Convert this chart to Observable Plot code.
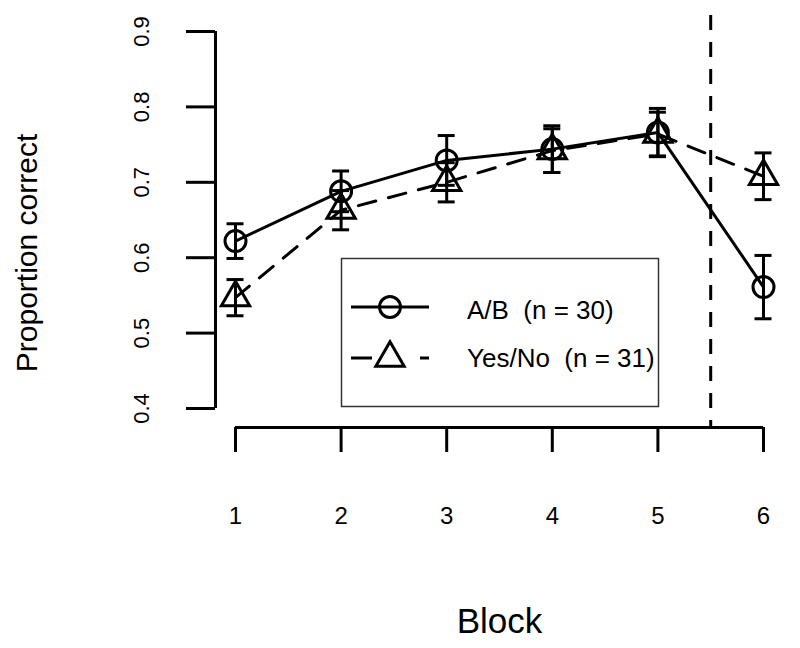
<!DOCTYPE html>
<html><head><meta charset="utf-8">
<script src="https://cdn.jsdelivr.net/npm/d3@7"></script>
<script src="https://cdn.jsdelivr.net/npm/@observablehq/plot@0.6"></script>
<style>
html,body{margin:0;padding:0;background:#fff;}
#wrap{position:relative;width:800px;height:648px;font-family:"Liberation Sans",Arial,Helvetica,sans-serif;}
#legend{position:absolute;left:340px;top:257px;}
svg text{white-space:pre;}
</style></head><body>
<div id="wrap"><div id="chart"></div><div id="legend"></div></div>
<script>
// ---- data ----
const blocks = [1, 2, 3, 4, 5, 6];
const abMean = [0.622, 0.688, 0.729, 0.744, 0.766, 0.561];
const abSE   = [0.023, 0.027, 0.033, 0.031, 0.032, 0.042];
const ynMean = [0.547, 0.663, 0.700, 0.742, 0.764, 0.708];
const ynSE   = [0.024, 0.026, 0.026, 0.029, 0.029, 0.031];
const seriesLabels = ["A/B  (n = 30)", "Yes/No  (n = 31)"];
const yTicks = [0.4, 0.5, 0.6, 0.7, 0.8, 0.9];
const cutoff = 5.5;
const xLabel = "Block";
const yLabel = "Proportion correct";

const font = "Liberation Sans, Arial, Helvetica, sans-serif";
const rows = (m, s) => blocks.map((b, i) => ({block: b, mean: m[i], lo: m[i] - s[i], hi: m[i] + s[i]}));
const ab = rows(abMean, abSE);
const yn = rows(ynMean, ynSE);
const lw = 3, cap = 8.5, R = 10.5;
const dash = "18,13";

function errorBars(data) {
  return [
    Plot.ruleX(data, {x: "block", y1: "lo", y2: "hi", strokeWidth: lw}),
    Plot.ruleY(data, {y: "hi", x1: "block", x2: "block", insetLeft: -cap, insetRight: -cap, strokeWidth: lw}),
    Plot.ruleY(data, {y: "lo", x1: "block", x2: "block", insetLeft: -cap, insetRight: -cap, strokeWidth: lw})
  ];
}

const chart = Plot.plot({
  width: 800, height: 648,
  marginLeft: 235, marginRight: 37, marginTop: 31, marginBottom: 240,
  style: {fontFamily: font, background: "white", color: "black"},
  x: {domain: [blocks[0], blocks[blocks.length - 1]], axis: null},
  y: {domain: [yTicks[0], yTicks[yTicks.length - 1]], axis: null},
  marks: [
    Plot.ruleX([blocks[0]], {y1: yTicks[0], y2: yTicks[yTicks.length - 1], dx: -20, strokeWidth: lw}),
    Plot.axisY(yTicks, {anchor: "left", tickSize: 29, tickPadding: 38, tickRotate: -90, dx: -20,
      strokeWidth: lw, fontSize: 22, tickFormat: d3.format(".1f"), label: null}),
    Plot.ruleY([yTicks[0]], {x1: blocks[0], x2: blocks[blocks.length - 1], dy: 19, strokeWidth: lw}),
    Plot.axisX(blocks, {anchor: "bottom", tickSize: 25, tickPadding: 54, dy: 19,
      strokeWidth: lw, fontSize: 24, tickFormat: d3.format("d"), label: null}),
    Plot.ruleX([cutoff], {insetTop: -16, insetBottom: -19, strokeWidth: lw, strokeDasharray: "15,12"}),
    Plot.line(ab, {x: "block", y: "mean", strokeWidth: lw}),
    Plot.line(yn, {x: "block", y: "mean", strokeWidth: lw, strokeDasharray: dash}),
    ...errorBars(ab),
    ...errorBars(yn),
    Plot.dot(ab, {x: "block", y: "mean", symbol: "circle", r: R, stroke: "black", fill: "none", strokeWidth: lw}),
    Plot.dot(yn, {x: "block", y: "mean", symbol: "triangle", r: R, stroke: "black", fill: "none", strokeWidth: lw}),
    Plot.text([xLabel], {frameAnchor: "bottom", dy: 224, lineAnchor: "bottom", fontSize: 35}),
    Plot.text([yLabel], {frameAnchor: "left", dx: -199, dy: 33, rotate: -90, textAnchor: "middle", lineAnchor: "bottom", fontSize: 30})
  ]
});
document.getElementById("chart").appendChild(chart);

// ---- legend ----
const lg = d3.select("#legend").append("svg").attr("width", 322).attr("height", 152)
  .style("font-family", font);
lg.append("rect").attr("x", 1.5).attr("y", 1.5).attr("width", 317).attr("height", 148)
  .attr("fill", "white").attr("stroke", "#333").attr("stroke-width", 1.5);
const rowY = [50, 101];
const textY = [62, 110];
// row 1: solid line + circle
lg.append("line").attr("x1", 11).attr("x2", 89).attr("y1", rowY[0]).attr("y2", rowY[0])
  .attr("stroke", "black").attr("stroke-width", lw);
lg.append("path").attr("d", d3.symbol(d3.symbolCircle, Math.PI * R * R)())
  .attr("transform", `translate(50,${rowY[0]})`).attr("fill", "none").attr("stroke", "black").attr("stroke-width", lw);
// row 2: dashed line + triangle
lg.append("line").attr("x1", 11).attr("x2", 89).attr("y1", rowY[1]).attr("y2", rowY[1])
  .attr("stroke", "black").attr("stroke-width", lw).attr("stroke-dasharray", "21,48,9");
lg.append("path").attr("d", d3.symbol(d3.symbolTriangle, Math.PI * R * R)())
  .attr("transform", `translate(50,${rowY[1]})`).attr("fill", "none").attr("stroke", "black").attr("stroke-width", lw);
seriesLabels.forEach((s, i) => {
  lg.append("text").attr("x", 127).attr("y", textY[i]).attr("font-size", 26).attr("fill", "black").text(s);
});
</script>
</body></html>
